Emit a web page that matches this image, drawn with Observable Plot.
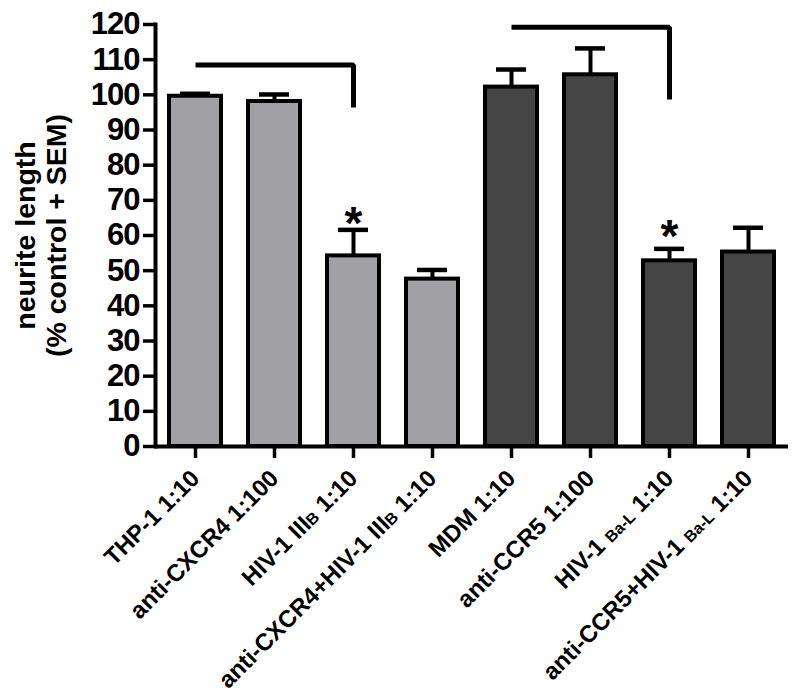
<!DOCTYPE html>
<html><head><meta charset="utf-8">
<script src="https://cdn.jsdelivr.net/npm/d3@7"></script>
<script src="https://cdn.jsdelivr.net/npm/@observablehq/plot@0.6"></script>
<style>body{margin:0;background:#fff}</style>
</head><body><div id="chart"></div>
<script>
// categories ({...} marks the subscript part of a label)
const categories = ["THP-1 1:10", "anti-CXCR4 1:100", "HIV-1 III{B} 1:10", "anti-CXCR4+HIV-1 III{B} 1:10",
  "MDM 1:10", "anti-CCR5 1:100", "HIV-1 {Ba-L} 1:10", "anti-CCR5+HIV-1 {Ba-L} 1:10"];
const groups = ["THP-1", "THP-1", "THP-1", "THP-1", "MDM", "MDM", "MDM", "MDM"];
const groupNames = ["THP-1", "MDM"];
const groupColors = ["#a1a1a5", "#454545"];
const values = [99.6, 98.1, 54.2, 47.6, 102.2, 105.7, 52.8, 55.3];
const errors = [0.7, 2.0, 7.4, 2.6, 5.0, 7.5, 3.4, 6.9];
const yTicks = [0, 10, 20, 30, 40, 50, 60, 70, 80, 90, 100, 110, 120];
const yLabel = "neurite length\n(% control + SEM)";
// significance brackets
const bracketFrom = ["THP-1 1:10", "MDM 1:10"];
const bracketTo = ["HIV-1 III{B} 1:10", "HIV-1 {Ba-L} 1:10"];
const bracketTop = [108.5, 119.2];
const bracketEnd = [96.4, 98.7];
// asterisks
const starCats = ["HIV-1 III{B} 1:10", "HIV-1 {Ba-L} 1:10"];
const starY = [63.2, 59.4];

const table = categories.map((c, i) => ({cat: c, group: groups[i], value: values[i], err: errors[i]}));
const bracketPts = bracketFrom.flatMap((f, i) => [
  {id: i, cat: f, y: bracketTop[i]},
  {id: i, cat: bracketTo[i], y: bracketTop[i]},
  {id: i, cat: bracketTo[i], y: bracketEnd[i]}
]);
const stars = starCats.map((c, i) => ({cat: c, y: starY[i]}));

const chart = Plot.plot({
  width: 800, height: 697,
  marginLeft: 155, marginRight: 12, marginTop: 24, marginBottom: 251,
  style: {fontFamily: "'Liberation Sans', Arial, sans-serif", fontWeight: "bold", background: "#fff", color: "#000"},
  x: {domain: categories, paddingInner: 0.34, paddingOuter: 0.17, label: null},
  y: {domain: [0, 120], label: null},
  color: {domain: groupNames, range: groupColors},
  marks: [
    Plot.barY(table, {x: "cat", y: "value", fill: "group", stroke: "#000", strokeWidth: 4}),
    Plot.ruleX(table, {x: "cat", y1: "value", y2: d => d.value + d.err, stroke: "#000", strokeWidth: 4}),
    Plot.tickY(table, {x: "cat", y: d => d.value + d.err, stroke: "#000", strokeWidth: 4.5, insetLeft: 11, insetRight: 11}),
    Plot.line(bracketPts, {x: "cat", y: "y", z: "id", stroke: "#000", strokeWidth: 5, strokeLinejoin: "miter", strokeLinecap: "butt"}),
    Plot.text(stars, {x: "cat", y: "y", text: () => "*", fontSize: 46, fontWeight: "bold", fill: "#000"}),
    Plot.axisY({ticks: yTicks, tickSize: 12, tickPadding: 4, fontSize: 31, strokeWidth: 3.5, label: null}),
    Plot.axisX({tickSize: 12, tickRotate: -45, fontSize: 23.8, strokeWidth: 3.5, tickPadding: 16, label: null}),
    Plot.ruleY([0], {stroke: "#000", strokeWidth: 4}),
    Plot.frame({anchor: "left", stroke: "#000", strokeWidth: 4}),
    Plot.text([yLabel], {frameAnchor: "left", text: d => d, rotate: -90, textAnchor: "middle", dx: -115, fontSize: 28.5, lineHeight: 1.1, fill: "#000"})
  ]
});

d3.select(chart).selectAll('g[aria-label="x-axis tick label"] text').each(function() {
  const t = this.textContent;
  const parts = t.split(/(\{[^}]*\})/);
  if (parts.length === 1) return;
  const sel = d3.select(this);
  sel.text(null);
  parts.forEach(p => {
    if (!p) return;
    if (p.startsWith("{")) sel.append("tspan").attr("font-size", 16).text(p.slice(1, -1));
    else sel.append("tspan").text(p);
  });
});
d3.select(chart).selectAll('g[aria-label="y-axis tick label"] text').attr("letter-spacing", "-1");

document.getElementById("chart").appendChild(chart);
</script>
</body></html>
